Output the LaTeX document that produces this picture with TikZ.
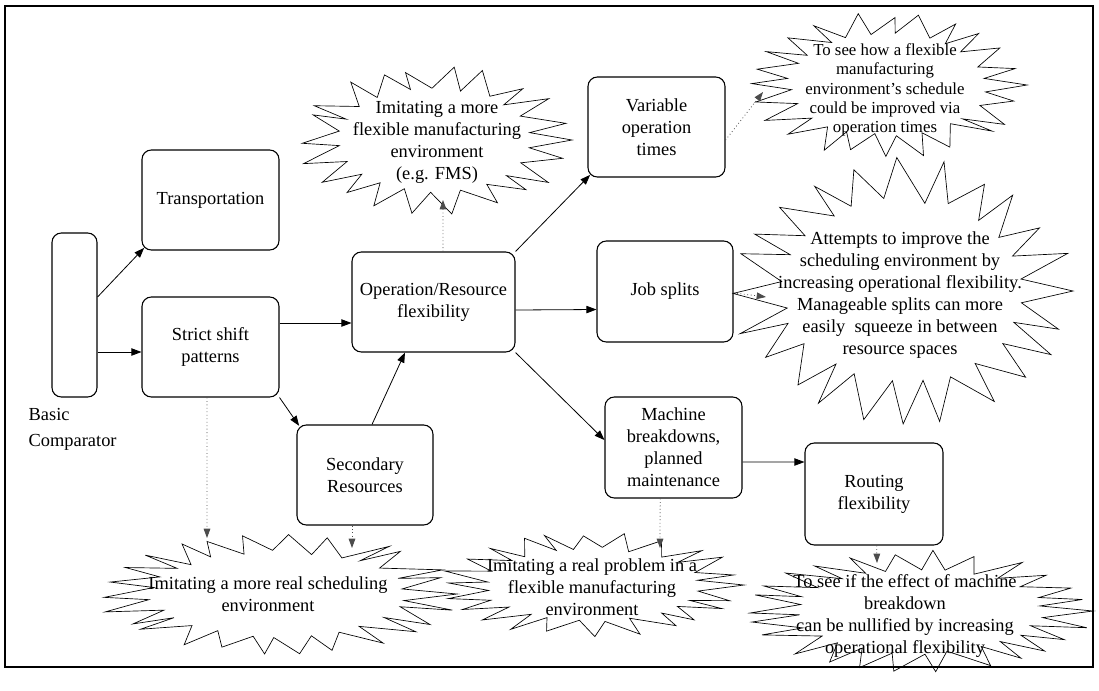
\documentclass[tikz,border=0pt]{standalone}
\usepackage{fontspec}
\setmainfont{Liberation Serif}
\usetikzlibrary{arrows.meta,calc}

% zig-zag "explosion" outline: centre x, centre y, radius x, radius y, spikes, seed
\newcommand\burstshape[6]{%
  \pgfmathsetseed{#6}%
  \pgfmathtruncatemacro\burstlast{#5-1}%
  \begin{scope}[shift={(#1,#2)},xscale=#3,yscale=#4]
    \draw[burstline] (0:1)
      \foreach \k in {1,...,\burstlast} {
        -- ({(\k-0.5)*360/#5+3*rand}:{0.68+0.05*rnd})
        -- ({\k*360/#5+4*rand}:{0.93+0.09*rnd}) }
      -- ({(#5-0.5)*360/#5}:0.70) -- cycle;
  \end{scope}}

\begin{document}
\begin{tikzpicture}[x=0.75pt,y=-0.75pt,
  txt/.style={font=\fontsize{13.8}{16.5}\selectfont},
  box/.style={draw, line width=0.8pt, rounded corners=7pt, align=center, inner sep=2pt, txt},
  arr/.style={line width=0.6pt, -{Triangle[length=7.5pt,width=5.5pt]}},
  darr/.style={line width=0.6pt, dotted, draw=black!70, -{Triangle[length=7pt,width=5pt]}},
  burstline/.style={line width=0.5pt, line join=miter},
  note/.style={align=center, inner sep=0pt, txt},
]
\useasboundingbox (0,0) rectangle (1099,690);
\draw[line width=1.5pt] (5,6) rectangle (1093,667);

% boxes
\node[box, minimum width=33.75pt, minimum height=123pt] (bc) at (74.5,315) {};
\node[txt, align=left, anchor=west, font=\fontsize{13.8}{19.5}\selectfont] (bclab) at (24,429) {Basic\\Comparator};
\node[box, minimum width=102.75pt, minimum height=75pt] (tr) at (210.5,200) {Transportation};
\node[box, minimum width=102.75pt, minimum height=75pt] (ss) at (210.5,347) {Strict shift\\patterns};
\node[box, minimum width=122.25pt, minimum height=75pt] (or) at (433.5,302) {Operation/Resource\\flexibility};
\node[box, minimum width=102pt, minimum height=75pt] (sr) at (365,475) {Secondary\\Resources};
\node[box, minimum width=102.75pt, minimum height=75pt] (vo) at (656.5,127) {Variable\\operation\\times};
\node[box, minimum width=102pt, minimum height=75.75pt] (js) at (665,291.5) {Job splits};
\node[box, minimum width=102.75pt, minimum height=75.75pt] (mb) at (673.5,447.5) {Machine\\breakdowns,\\planned\\maintenance};
\node[box, minimum width=103.5pt, minimum height=76.5pt] (rf) at (874,494) {Routing\\flexibility};

% explosions with their notes
\burstshape{434}{140}{138}{74}{22}{11}
\node[note] (n1) at (437,142) {Imitating a more\\flexible manufacturing\\environment\\(e.g. FMS)};
\burstshape{887}{85}{140}{72}{24}{12}
\node[note, font=\fontsize{12.6}{14.4}\selectfont] (n2) at (885,90) {To see how a flexible\\manufacturing\\environment’s schedule\\could be improved via\\operation times};
\burstshape{903}{291}{170}{131}{24}{13}
\node[note] (n3) at (900,295) {Attempts to improve the\\scheduling environment by\\increasing operational flexibility.\\Manageable splits can more\\easily\ \ squeeze in between\\resource spaces};
\burstshape{277}{594}{180}{60}{26}{14}
\node[note] (n4) at (268,594) {Imitating a more real scheduling\\environment};
\burstshape{592}{585}{152}{52}{24}{15}
\node[note] (n5) at (592,587) {Imitating a real problem in a\\flexible manufacturing\\environment};
\burstshape{919}{611}{174}{60}{26}{16}
\node[note] (n6) at (905,616) {To see if the effect of machine\\breakdown\\can be nullified by increasing\\operational flexibility};

% ends of the dotted links on the explosions
\coordinate (t1) at (443,200);
\coordinate (t2) at (763,92);
\coordinate (t3) at (766,297);
\coordinate (t4a) at (207,538);
\coordinate (t4b) at (352,548);
\coordinate (t5) at (660,548);
\coordinate (t6) at (877,563);

% solid links
\draw[arr] ([yshift=13.5pt]bc.east) -- ([xshift=2pt,yshift=2pt]tr.south west);
\draw[arr] ([yshift=-27.75pt]bc.east) -- ([yshift=-3.75pt]ss.west);
\draw[arr] ([yshift=18pt]ss.east) -- ([yshift=-15.75pt]or.west);
\draw[arr] (ss.south east) -- ([xshift=2pt,yshift=-1pt]sr.north west);
\draw[arr] ([xshift=5.25pt]sr.north) -- ([xshift=-21.4pt]or.south);
\draw[arr] (or.north east) -- ([xshift=2pt,yshift=2pt]vo.south west);
\draw[arr] ([yshift=-6pt]or.east) -- ([yshift=-13.5pt]js.west);
\draw[arr] (or.south east) -- ([yshift=5.6pt]mb.west);
\draw[arr] ([yshift=-10.9pt]mb.east) -- ([yshift=24pt]rf.west);

% dotted links
\draw[darr] ([xshift=7.1pt]or.north) -- (t1);
\draw[darr] ([yshift=-9.75pt]vo.east) -- (t2);
\draw[darr] ([yshift=-1pt]js.east) -- (t3);
\draw[darr] ([xshift=-2.6pt]ss.south) -- (t4a);
\draw[darr] ([xshift=-9.75pt]sr.south) -- (t4b);
\draw[darr] ([xshift=-10pt]mb.south) -- (t5);
\draw[darr] ([xshift=2pt]rf.south) -- (t6);
\end{tikzpicture}
\end{document}
